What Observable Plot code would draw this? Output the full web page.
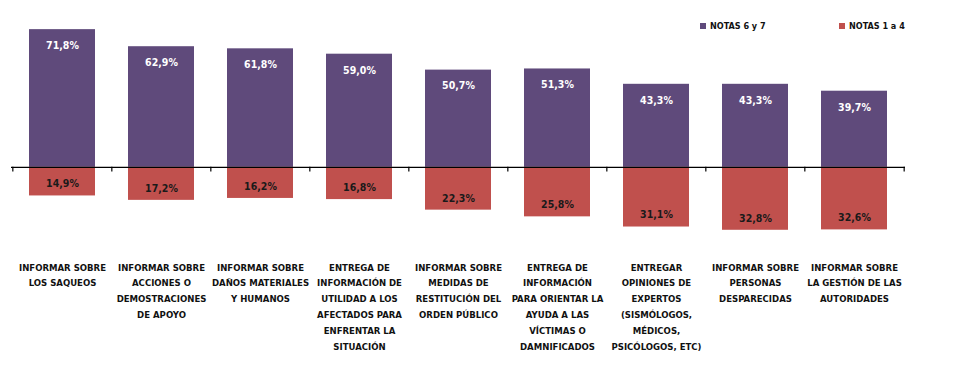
<!DOCTYPE html>
<html>
<head>
<meta charset="utf-8">
<script src="https://cdn.jsdelivr.net/npm/d3@7"></script>
<script src="https://cdn.jsdelivr.net/npm/@observablehq/plot@0.6"></script>
<style>
  html, body { margin: 0; padding: 0; background: #fff; }
  #wrap { position: relative; width: 957px; height: 371px; font-family: "Liberation Sans Narrow", "DejaVu Sans Condensed", "Liberation Sans", sans-serif; }
  .legend { position: absolute; top: 21px; font-size: 9px; font-weight: bold; color: #111; display: flex; align-items: center; white-space: nowrap; }
  .legend span.sw { display: inline-block; width: 6px; height: 6px; margin-right: 4px; }
</style>
</head>
<body>
<div id="wrap"></div>
<script>
const categories = [
  "INFORMAR SOBRE\nLOS SAQUEOS",
  "INFORMAR SOBRE\nACCIONES O\nDEMOSTRACIONES\nDE APOYO",
  "INFORMAR SOBRE\nDAÑOS MATERIALES\nY HUMANOS",
  "ENTREGA DE\nINFORMACIÓN DE\nUTILIDAD A LOS\nAFECTADOS PARA\nENFRENTAR LA\nSITUACIÓN",
  "INFORMAR SOBRE\nMEDIDAS DE\nRESTITUCIÓN DEL\nORDEN PÚBLICO",
  "ENTREGA DE\nINFORMACIÓN\nPARA ORIENTAR LA\nAYUDA A LAS\nVÍCTIMAS O\nDAMNIFICADOS",
  "ENTREGAR\nOPINIONES DE\nEXPERTOS\n(SISMÓLOGOS,\nMÉDICOS,\nPSICÓLOGOS, ETC)",
  "INFORMAR SOBRE\nPERSONAS\nDESPARECIDAS",
  "INFORMAR SOBRE\nLA GESTIÓN DE LAS\nAUTORIDADES"
];
const notas67 = [71.8, 62.9, 61.8, 59.0, 50.7, 51.3, 43.3, 43.3, 39.7];
const notas14 = [14.9, 17.2, 16.2, 16.8, 22.3, 25.8, 31.1, 32.8, 32.6];
const seriesNames = ["NOTAS 6 y 7", "NOTAS 1 a 4"];
const colors = ["#5F4A7B", "#C0504D"];

const fmt = v => v.toFixed(1).replace(".", ",") + "%";
const pos = categories.map((c, i) => ({cat: c, v: notas67[i]}));
const neg = categories.map((c, i) => ({cat: c, v: -notas14[i]}));

const W = 957, H = 371, mL = 11, mR = 52;
const step = (W - mL - mR) / categories.length;
const font = '"Liberation Sans Narrow", "DejaVu Sans Condensed", "Liberation Sans", sans-serif';

const chart = Plot.plot({
  width: W, height: H,
  marginLeft: mL, marginRight: mR, marginTop: 23, marginBottom: 137,
  style: {fontFamily: font, background: "#fff"},
  x: {domain: categories, paddingInner: 0.335, paddingOuter: 0.1675, axis: null},
  y: {domain: [-35, 75], axis: null},
  marks: [
    Plot.barY(pos, {x: "cat", y: "v", fill: colors[0]}),
    Plot.barY(neg, {x: "cat", y: "v", fill: colors[1]}),
    Plot.ruleY([0], {stroke: "#000", strokeWidth: 1.4}),
    Plot.ruleX(categories, {x: d => d, y1: 0, y2: -2.4, dx: -step / 2, stroke: "#000", strokeWidth: 1.2}),
    Plot.ruleX(categories.slice(-1), {x: d => d, y1: 0, y2: -2.4, dx: step / 2, stroke: "#000", strokeWidth: 1.2}),
    Plot.text(pos, {x: "cat", y: "v", text: d => fmt(d.v), dy: 16, fill: "#fff", fontWeight: "bold", fontSize: 10.5}),
    Plot.text(neg, {x: "cat", y: "v", text: d => fmt(-d.v), dy: -12, fill: "#1a1a1a", fontWeight: "bold", fontSize: 10.5}),
    Plot.axisX({anchor: "bottom", tickSize: 0, tickPadding: 25, fontSize: 9.5, fontWeight: "bold", lineHeight: 1.66, fill: "#111", label: null})
  ]
});
const wrap = document.getElementById("wrap");
wrap.appendChild(chart);

const legendPos = [700, 839];
seriesNames.forEach((name, i) => {
  const d = document.createElement("div");
  d.className = "legend";
  d.style.left = legendPos[i] + "px";
  d.innerHTML = `<span class="sw" style="background:${colors[i]}"></span>${name}`;
  wrap.appendChild(d);
});
</script>
</body>
</html>
